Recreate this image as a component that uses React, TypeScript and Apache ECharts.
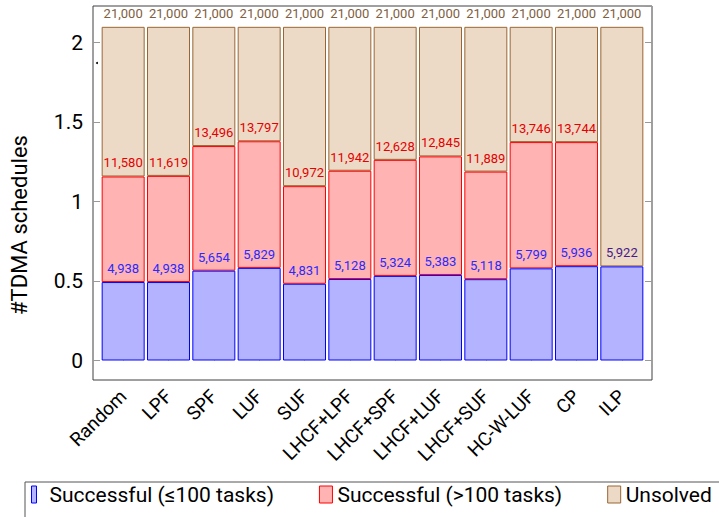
import React, { useEffect, useRef } from "react";
import * as echarts from "echarts";

const categories = ["Random", "LPF", "SPF", "LUF", "SUF", "LHCF+LPF", "LHCF+SPF", "LHCF+LUF", "LHCF+SUF", "HC-W-LUF", "CP", "ILP"];
// successful schedules with <= 100 tasks
const smallTasks = [4938, 4938, 5654, 5829, 4831, 5128, 5324, 5383, 5118, 5799, 5936, 5922];
// cumulative successful schedules (all sizes)
const successTotal = [11580, 11619, 13496, 13797, 10972, 11942, 12628, 12845, 11889, 13746, 13744, 5922];
// all instances
const totalInstances = [21000, 21000, 21000, 21000, 21000, 21000, 21000, 21000, 21000, 21000, 21000, 21000];
const yTicks = [0, 0.5, 1, 1.5, 2];

const SCALE = 10000;
const FONT = "Roboto";
const fmt = (v: number) => v.toLocaleString("en-US");

export default function App() {
  const ref = useRef<HTMLDivElement>(null);
  useEffect(() => {
    if (!ref.current) return;
    const chart = echarts.init(ref.current, null, { renderer: "svg" });
    const blueData = smallTasks.map((v) => v / SCALE);
    const redData = successTotal.map((v, i) => {
      const val = (v - smallTasks[i]) / SCALE;
      return val === 0 ? { value: val, label: { color: "#4a1a8a" }, itemStyle: { borderWidth: 0 } } : val;
    });
    const tanData = totalInstances.map((v, i) => (v - successTotal[i]) / SCALE);
    const yLabelFmt = (v: number) => (yTicks.some((t) => Math.abs(t - v) < 1e-9) ? String(v) : "");

    const valueAxisCommon = {
      gridIndex: 1,
      type: "value" as const,
      min: 0,
      max: 2.231,
      interval: 0.5,
      offset: 7.5,
      axisLine: { show: false },
      splitLine: { show: false },
      axisTick: { show: true, inside: true, length: 7, lineStyle: { color: "#999" } },
    };

    const labelBase = { show: true, position: "top" as const, distance: 7, fontSize: 13, fontFamily: FONT };

    chart.setOption({
      animation: false,
      grid: [
        { left: 93, top: 6, width: 559, height: 374, show: true, borderColor: "#404040", borderWidth: 1, backgroundColor: "transparent" },
        { left: 100.5, top: 6, width: 544, height: 354.5 },
        { left: 93, top: 100, width: 559, height: 250 },
      ],
      xAxis: [
        { gridIndex: 0, type: "value", show: false, min: 0, max: 1 },
        {
          gridIndex: 1,
          type: "category",
          data: categories,
          boundaryGap: true,
          offset: 19.5,
          axisLine: { show: false },
          axisTick: { show: true, inside: true, alignWithLabel: true, length: 7, lineStyle: { color: "#999" } },
          axisLabel: { rotate: 45, margin: 13, fontSize: 19, color: "#000", fontFamily: FONT, interval: 0 },
        },
        { gridIndex: 2, type: "value", show: false, min: 0, max: 1 },
      ],
      yAxis: [
        { gridIndex: 0, type: "value", show: false, min: 0, max: 1 },
        {
          ...valueAxisCommon,
          axisLabel: { formatter: yLabelFmt, showMaxLabel: false, margin: 10, fontSize: 21, color: "#000", fontFamily: FONT },
        },
        {
          ...valueAxisCommon,
          position: "right",
          axisLabel: { show: false },
        },
        {
          gridIndex: 2,
          type: "value",
          min: 0,
          max: 1,
          name: "#TDMA schedules",
          nameLocation: "middle",
          nameGap: 67,
          nameTextStyle: { fontSize: 22, fontFamily: FONT, color: "#000" },
          axisLine: { show: false },
          axisTick: { show: false },
          axisLabel: { show: false },
          splitLine: { show: false },
        },
      ],
      legend: {
        left: 25,
        top: 482,
        width: 760,
        orient: "horizontal",
        padding: [2, 40, 30, 6],
        borderColor: "#555",
        borderWidth: 1,
        itemWidth: 13,
        itemHeight: 17,
        itemGap: 45,
        textStyle: { fontSize: 21, fontFamily: FONT, color: "#000" },
        data: [
          {
            name: "Successful (≤100 tasks)",
            icon: "path://M0,0H5V17H0Z M13,0L13,0",
            itemStyle: { color: "#b3b3ff", borderColor: "#0000ff", borderWidth: 1 },
          },
          { name: "Successful (>100 tasks)", icon: "rect", itemStyle: { color: "#ffb3b3", borderColor: "#ff0000", borderWidth: 1 } },
          { name: "Unsolved", icon: "rect", itemStyle: { color: "#ecd9c6", borderColor: "#996633", borderWidth: 1 } },
        ],
      },
      graphic: [{ type: "circle", shape: { cx: 97, cy: 63, r: 1 }, style: { fill: "#000" } }],
      series: [
        {
          name: "Successful (≤100 tasks)",
          type: "bar",
          stack: "s",
          xAxisIndex: 1,
          yAxisIndex: 1,
          barWidth: 43,
          z: 4,
          data: blueData,
          itemStyle: { color: "#b3b3ff", borderColor: "#0000ff", borderWidth: 1 },
          label: {
            ...labelBase,
            color: "#2a2aff",
            formatter: (p: any) => (successTotal[p.dataIndex] === smallTasks[p.dataIndex] ? "" : fmt(smallTasks[p.dataIndex])),
          },
        },
        {
          name: "Successful (>100 tasks)",
          type: "bar",
          stack: "s",
          xAxisIndex: 1,
          yAxisIndex: 1,
          barWidth: 43,
          z: 3,
          data: redData,
          itemStyle: { color: "#ffb3b3", borderColor: "#ff0000", borderWidth: 1 },
          label: {
            ...labelBase,
            color: "#e60000",
            formatter: (p: any) => fmt(successTotal[p.dataIndex]),
          },
        },
        {
          name: "Unsolved",
          type: "bar",
          stack: "s",
          xAxisIndex: 1,
          yAxisIndex: 1,
          barWidth: 43,
          z: 2,
          data: tanData,
          itemStyle: { color: "#ecd9c6", borderColor: "#996633", borderWidth: 1 },
          label: {
            ...labelBase,
            color: "#80603f",
            formatter: (p: any) => fmt(totalInstances[p.dataIndex]),
          },
        },
      ],
    });
    return () => chart.dispose();
  }, []);
  return <div ref={ref} style={{ position: "absolute", left: 0, top: 0, width: 719, height: 517 }} />;
}
